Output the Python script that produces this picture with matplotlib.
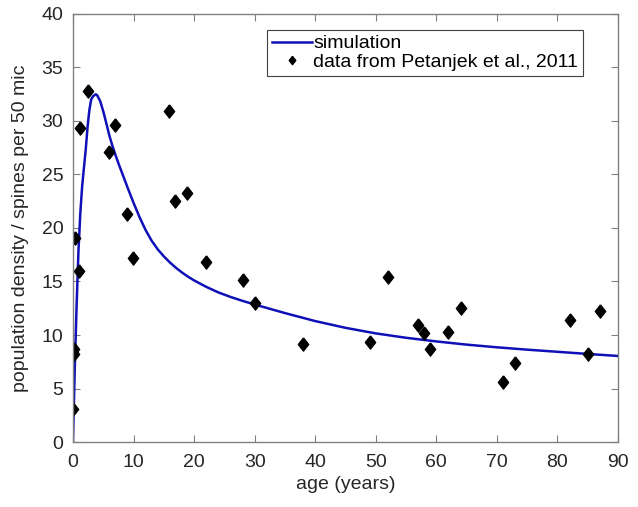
import numpy as np
import matplotlib
matplotlib.use('Agg')
import matplotlib.pyplot as plt
from matplotlib import rc

rc('font', **{'family': 'sans-serif', 'sans-serif': ['Liberation Sans', 'DejaVu Sans'], 'size': 14})

# simulation curve
sim_age = [0, 0.3, 0.6, 0.9, 1.2, 1.5, 1.8, 2.1, 2.4, 2.7, 3.0, 3.3, 3.75,
           4.0, 4.5, 5.0, 5.5, 6.0, 6.5, 7.0, 7.5, 8.0, 9.0, 10, 11, 12, 13,
           14, 15, 16, 17, 18, 19, 20, 22, 24, 26, 28, 30, 35, 40, 45, 50,
           55, 60, 65, 70, 75, 80, 85, 90]
sim_val = [0, 7.0, 12.8, 17.8, 21.3, 23.8, 25.6, 27.3, 29.4, 31.0, 32.0, 32.3, 32.5,
           32.4, 31.85, 30.9, 29.8, 28.65, 27.7, 26.85, 26.05, 25.3, 23.8, 22.35, 21.0, 19.8, 18.8,
           18.0, 17.35, 16.78, 16.28, 15.84, 15.45, 15.1, 14.5, 13.98, 13.56, 13.19, 12.85, 12.05, 11.3, 10.67, 10.15,
           9.74, 9.4, 9.1, 8.85, 8.63, 8.43, 8.23, 8.04]

# data from Petanjek et al., 2011
data_age = [0.05, 0.1, 0.2, 0.3, 1.0, 1.2, 2.4, 5.9, 7.0, 8.9, 9.9, 15.9, 16.9, 18.9,
            22, 28, 30, 38, 49, 52, 57, 58, 59, 62, 64, 71, 73, 82, 85, 87]
data_val = [3.1, 8.2, 8.7, 19.1, 16.0, 29.3, 32.8, 27.1, 29.6, 21.3, 17.2, 30.9, 22.55, 23.3,
            16.8, 15.1, 13.0, 9.15, 9.3, 15.45, 10.95, 10.15, 8.7, 10.3, 12.5, 5.6, 7.4, 11.4, 8.2, 12.2]

diamond = [(0, 1), (0.78, 0), (0, -1), (-0.78, 0), (0, 1)]

fig = plt.figure(figsize=(6.38, 5.07), dpi=100)
ax = fig.add_axes([0.1144, 0.1282, 0.8543, 0.8442])

ax.plot(sim_age, sim_val, color='#1010b8', lw=1.8, label='simulation')
ax.plot(data_age, data_val, ls='none', marker=diamond, ms=9.5, color='black',
        label='data from Petanjek et al., 2011')

ax.set_xlim(0, 90)
ax.set_ylim(0, 40)
ax.set_xticks(np.arange(0, 91, 10))
ax.set_yticks(np.arange(0, 41, 5))
ax.tick_params(direction='in', top=True, right=True, length=5, width=0.8,
               colors='#808080', labelcolor='#262626', labelsize=14)
ax.tick_params(axis='x', pad=8.5)
ax.tick_params(axis='y', pad=7)
for s in ax.spines.values():
    s.set_color('#808080')
    s.set_linewidth(1.0)

ax.set_xlabel('age (years)', color='#262626', fontsize=14, labelpad=4)
ax.set_ylabel('population density / spines per 50 mic', color='#262626', fontsize=14, labelpad=9)

leg = ax.legend(loc='upper right', bbox_to_anchor=(0.936, 0.9626), fontsize=14,
                fancybox=False, framealpha=1, edgecolor='#404040',
                handlelength=2.1, handletextpad=0.05, borderpad=0.25,
                labelspacing=0.05, borderaxespad=0)
leg.get_frame().set_linewidth(0.8)
leg.legend_handles[1].set_markersize(6)

fig.savefig('out.png', dpi=100)
